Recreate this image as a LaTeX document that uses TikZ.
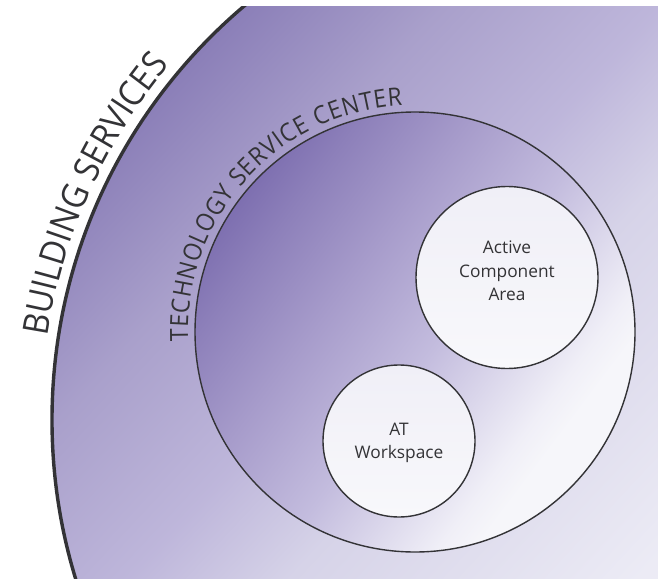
\documentclass[tikz,border=0pt]{standalone}
\usepackage{fontspec}
\setmainfont{Open Sans}
\newfontfamily\narrowsans[FakeStretch=0.92]{Open Sans}
\usetikzlibrary{decorations.text}
\definecolor{inkc}{HTML}{333336}
\definecolor{roomtop}{HTML}{F0EFF7}
\definecolor{roombot}{HTML}{F8F8FB}
\pgfdeclarehorizontalshading{outergrad}{1400bp}{
 rgb(0bp)=(0.50,0.44,0.69);
 rgb(182bp)=(0.545,0.498,0.722);
 rgb(329bp)=(0.663,0.627,0.796);
 rgb(488bp)=(0.745,0.715,0.858);
 rgb(606bp)=(0.839,0.827,0.91);
 rgb(862bp)=(0.925,0.922,0.961);
 rgb(1000bp)=(0.94,0.94,0.97)}
\pgfdeclarehorizontalshading{innergrad}{1400bp}{
 rgb(0bp)=(0.478,0.42,0.682);
 rgb(300bp)=(0.478,0.42,0.682);
 rgb(360bp)=(0.553,0.502,0.729);
 rgb(450bp)=(0.655,0.612,0.796);
 rgb(555bp)=(0.765,0.737,0.87);
 rgb(680bp)=(0.941,0.937,0.969);
 rgb(710bp)=(0.965,0.965,0.98);
 rgb(1000bp)=(0.965,0.965,0.98)}
\tikzset{
 ring/.style={draw=inkc,circle,inner sep=0pt},
 room/.style={ring,line width=1.4bp,top color=roomtop,bottom color=roombot},
 roomtext/.style={text=inkc,align=center,inner sep=0pt,font=\fontsize{17.3bp}{23.5bp}\selectfont},
}
\begin{document}
\begin{tikzpicture}[x=1bp,y=1bp]
\useasboundingbox (0,0) rectangle (658,-579);
\begin{scope}
 \clip (0,-7) rectangle (658,-579);
 \begin{scope}
  \clip (594,-420) circle[radius=542];
  \begin{scope}[rotate=-43,xshift=500bp]
   \pgflowlevelsynccm\pgfuseshading{outergrad}
  \end{scope}
  \begin{scope}
   \clip (415,-332) circle[radius=220];
   \begin{scope}[rotate=-37,xshift=500bp]
    \pgflowlevelsynccm\pgfuseshading{innergrad}
   \end{scope}
  \end{scope}
 \end{scope}
 \draw[inkc,line width=3.4bp] (594,-420) circle[radius=542];
\end{scope}
\node[ring,line width=1.4bp,minimum size=440bp] (center) at (415,-332) {};
\node[room,minimum size=182bp] (active) at (507,-277.5) {};
\node[room,minimum size=152bp] (workspace) at (399,-441) {};
\node[roomtext] (activetext) at (507,-271) {Active\\Component\\Area};
\node[roomtext] (worktext) at (399,-443) {AT\\Workspace};
\path[decorate,decoration={text along path,text align={fit to path},
  text format delimiters={|}{|},
  text={|\narrowsans\fontsize{35.4bp}{35.4bp}\selectfont\color{inkc}|BUILDING SERVICES}}]
  (594,-420) ++(171.3:553) arc[start angle=171.3,end angle=140.3,radius=553];
\path[decorate,decoration={text along path,text align={fit to path},
  text format delimiters={|}{|},
  text={|\narrowsans\fontsize{25bp}{25bp}\selectfont\color{inkc}|TECHNOLOGY SERVICE CENTER}}]
  (415,-332) ++(182.3:227) arc[start angle=182.3,end angle=93.2,radius=227];
\end{tikzpicture}
\end{document}
